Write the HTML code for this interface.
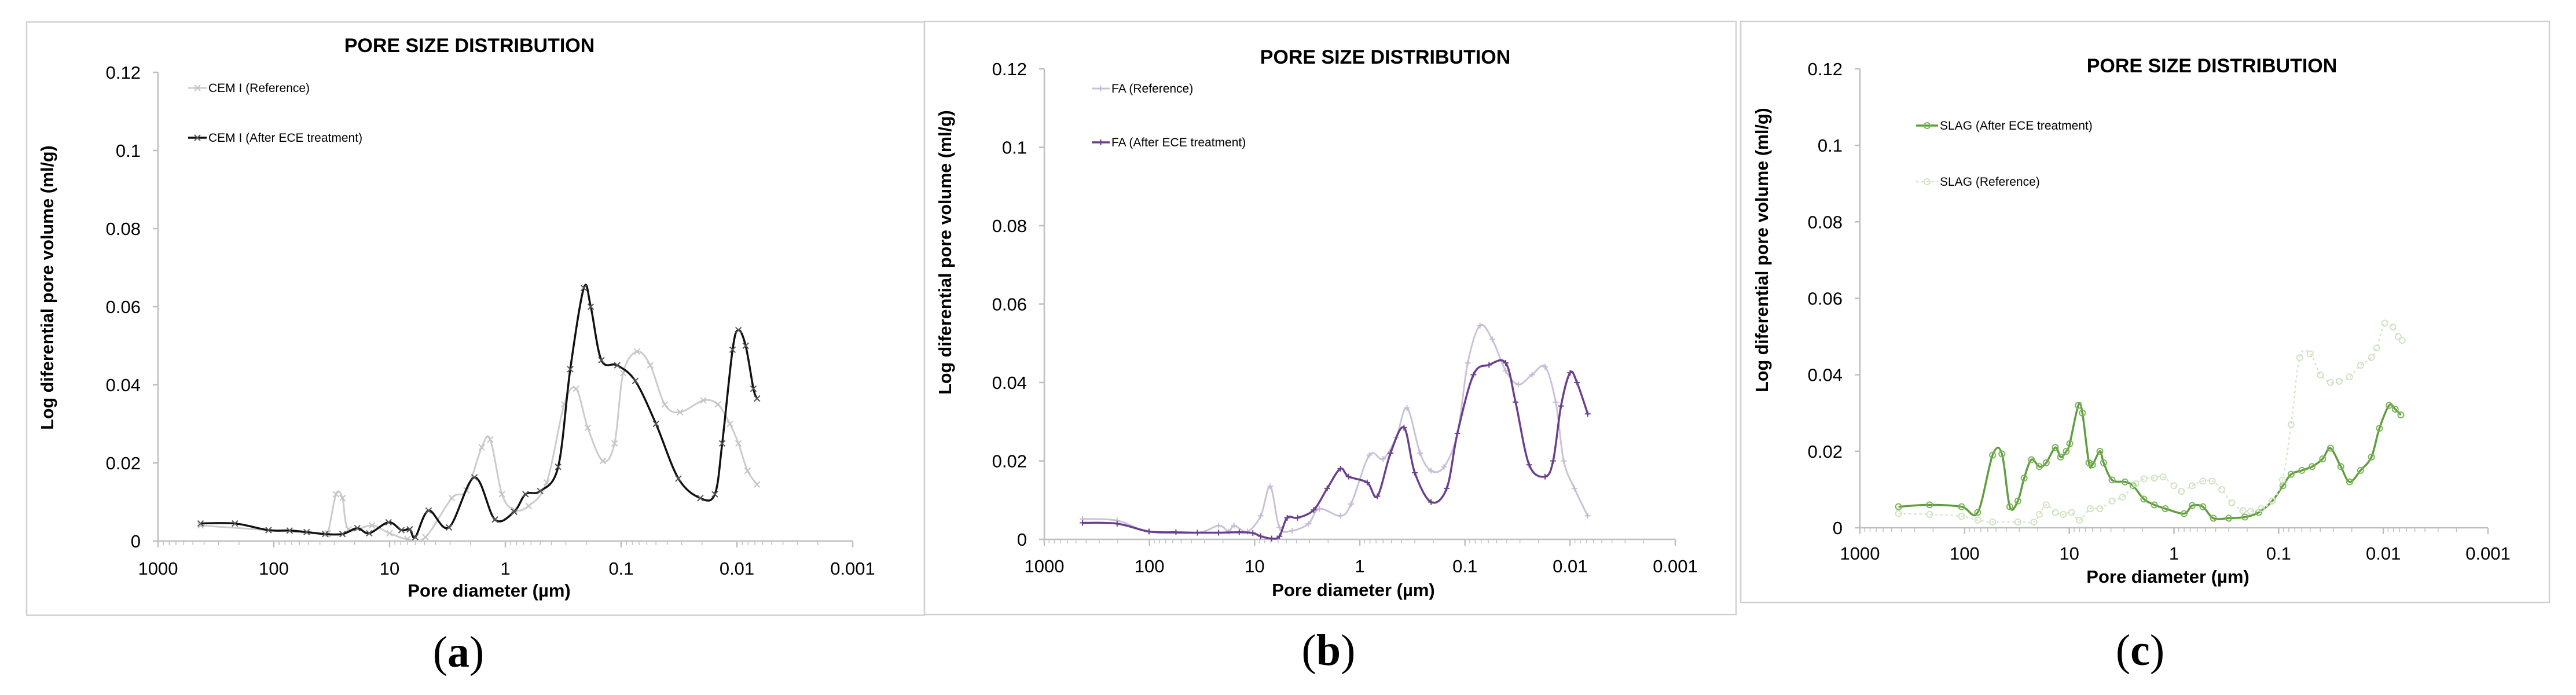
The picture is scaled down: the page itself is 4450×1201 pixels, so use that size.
<!DOCTYPE html>
<html><head><meta charset="utf-8"><title>Pore size distribution</title>
<style>
html,body{margin:0;padding:0;background:#fff;}
svg{display:block;}
</style></head>
<body>
<svg id="fig" width="4450" height="1201" viewBox="0 0 4450 1201" xmlns="http://www.w3.org/2000/svg" font-family="Liberation Sans, sans-serif"></svg>
<script>
// ---------- Data (pore diameter in µm, log differential pore volume in ml/g) ----------
const yTicks = [0, 0.02, 0.04, 0.06, 0.08, 0.1, 0.12];
const yTickLabels = ["0", "0.02", "0.04", "0.06", "0.08", "0.1", "0.12"];
const xTicks = [1000, 100, 10, 1, 0.1, 0.01, 0.001];
const xTickLabels = ["1000", "100", "10", "1", "0.1", "0.01", "0.001"];

const cemAfterD = [429,217,111,73,52,36,25.5,19,15,10.2,7.9,6.7,6.0,4.6,3.07,1.85,1.23,0.84,0.67,0.50,0.35,0.275,0.21,0.183,0.148,0.108,0.0755,0.050,0.032,0.0207,0.0155,0.0134,0.0109,0.0097,0.0084,0.0072,0.0067];
const cemAfterV = [0.0045,0.0045,0.0028,0.0027,0.0023,0.0018,0.0018,0.0033,0.0020,0.0048,0.0028,0.0030,0.0010,0.0078,0.0035,0.0163,0.0055,0.0075,0.0120,0.0128,0.0190,0.0440,0.0648,0.0600,0.0463,0.0450,0.0410,0.0300,0.0160,0.0110,0.0120,0.0250,0.0490,0.0540,0.0500,0.0390,0.0365];
const cemRefD = [429,111,36,34,29,25.5,22.6,14.2,10,7,4.9,2.9,2.16,1.6,1.35,1.07,0.84,0.63,0.44,0.31,0.245,0.194,0.144,0.114,0.096,0.073,0.056,0.042,0.031,0.0195,0.0146,0.0115,0.0097,0.0081,0.0067];
const cemRefV = [0.0040,0.0028,0.0018,0.0020,0.0120,0.0110,0.0030,0.0040,0.0020,0.0005,0.0010,0.0110,0.0130,0.0240,0.0260,0.0120,0.0080,0.0090,0.0150,0.0350,0.0390,0.0290,0.0205,0.0250,0.0430,0.0485,0.0450,0.0350,0.0330,0.0360,0.0350,0.0300,0.0250,0.0180,0.0145];

const faAfterD = [433,203,101,56,35,22,14,10.4,8.75,6.9,5.8,4.9,3.9,2.74,2.04,1.53,1.28,0.85,0.68,0.51,0.38,0.30,0.21,0.149,0.118,0.083,0.059,0.041,0.033,0.0245,0.0173,0.0145,0.0122,0.010,0.0086,0.0068];
const faAfterV = [0.0042,0.0040,0.0020,0.0018,0.0017,0.0017,0.0018,0.0016,0.0008,0.0002,0.0008,0.0055,0.0055,0.0075,0.0130,0.0180,0.0160,0.0145,0.0110,0.0220,0.0285,0.0170,0.0095,0.0130,0.0270,0.0420,0.0445,0.0450,0.0350,0.0190,0.0160,0.0200,0.0340,0.0425,0.0400,0.0320];
const faRefD = [433,203,101,35,22,17.6,15.7,11.7,8.75,7.1,5.8,4.4,3.07,2.43,1.53,1.21,0.81,0.60,0.45,0.356,0.267,0.21,0.158,0.118,0.094,0.072,0.055,0.041,0.031,0.023,0.0173,0.0137,0.0115,0.0091,0.0068];
const faRefV = [0.0052,0.0048,0.0020,0.0017,0.0035,0.0020,0.0035,0.0020,0.0060,0.0135,0.0030,0.0022,0.0040,0.0078,0.0060,0.0090,0.0215,0.0205,0.0260,0.0335,0.0220,0.0175,0.0185,0.0270,0.0450,0.0545,0.0510,0.0430,0.0395,0.0420,0.0440,0.0350,0.0200,0.0130,0.0060];

const slagAfterD = [428,216,107,75,54,44,37,31,27,23,19.3,16.6,13.6,12.1,10.7,9.9,8.2,7.5,6.5,6.0,5.1,4.7,3.9,2.94,2.46,1.94,1.54,1.21,0.80,0.67,0.53,0.42,0.30,0.21,0.155,0.115,0.091,0.076,0.060,0.048,0.038,0.032,0.0255,0.021,0.0165,0.013,0.0109,0.0088,0.0077,0.0068];
const slagAfterV = [0.0055,0.0060,0.0055,0.0040,0.0190,0.0193,0.0055,0.0070,0.0130,0.0178,0.0160,0.0170,0.0210,0.0185,0.0200,0.0220,0.0320,0.0300,0.0170,0.0165,0.0200,0.0170,0.0125,0.0120,0.0110,0.0075,0.0060,0.0050,0.0037,0.0058,0.0055,0.0025,0.0025,0.0028,0.0040,0.0070,0.0110,0.0140,0.0150,0.0160,0.0180,0.0208,0.0160,0.0120,0.0150,0.0185,0.0260,0.0320,0.0310,0.0295];
const slagRefD = [428,216,107,75,54,31,21.8,19.3,16.6,13.6,11.4,9.5,8.0,6.3,5.1,3.9,3.1,2.32,1.94,1.54,1.27,1.0,0.85,0.67,0.53,0.43,0.35,0.28,0.22,0.185,0.146,0.115,0.092,0.076,0.063,0.050,0.040,0.032,0.0264,0.021,0.0165,0.013,0.0116,0.0097,0.0081,0.0072,0.0066];
const slagRefV = [0.0037,0.0035,0.0030,0.0020,0.0015,0.0015,0.0015,0.0035,0.0060,0.0040,0.0035,0.0040,0.0020,0.0050,0.0050,0.0070,0.0080,0.0115,0.0128,0.0130,0.0133,0.0110,0.0095,0.0110,0.0122,0.0122,0.0100,0.0065,0.0045,0.0043,0.0050,0.0070,0.0125,0.0270,0.0445,0.0455,0.0400,0.0380,0.0383,0.0395,0.0425,0.0445,0.0470,0.0535,0.0525,0.0500,0.0490];

// ---------- Rendering ----------
const NS = "http://www.w3.org/2000/svg";
const svg = document.getElementById('fig');
function mk(tag, attrs, parent, txt){
  const e = document.createElementNS(NS, tag);
  for (const k in attrs) e.setAttribute(k, attrs[k]);
  if (txt !== undefined) e.textContent = txt;
  (parent || svg).appendChild(e);
  return e;
}
function smoothPath(pts){
  let d = "M" + pts[0][0].toFixed(1) + "," + pts[0][1].toFixed(1);
  for (let i = 0; i < pts.length - 1; i++){
    const p0 = pts[Math.max(0, i-1)], p1 = pts[i], p2 = pts[i+1], p3 = pts[Math.min(pts.length-1, i+2)];
    const t = 0.5/3;
    const c1x = p1[0] + (p2[0]-p0[0])*t, c1y = p1[1] + (p2[1]-p0[1])*t;
    const c2x = p2[0] - (p3[0]-p1[0])*t, c2y = p2[1] - (p3[1]-p1[1])*t;
    d += " C" + c1x.toFixed(1)+","+c1y.toFixed(1)+" "+c2x.toFixed(1)+","+c2y.toFixed(1)+" "+p2[0].toFixed(1)+","+p2[1].toFixed(1);
  }
  return d;
}
function marker(g, x, y, type, color){
  if (type === 'x'){
    mk('path', {d:`M${x-5},${y-5}L${x+5},${y+5}M${x-5},${y+5}L${x+5},${y-5}`, stroke:color, 'stroke-width':2, fill:'none'}, g);
  } else if (type === '+'){
    mk('path', {d:`M${x-5},${y}L${x+5},${y}M${x},${y-5}L${x},${y+5}`, stroke:color, 'stroke-width':2, fill:'none'}, g);
  } else {
    mk('circle', {cx:x, cy:y, r:5, stroke:color, 'stroke-width':2, fill:'none'}, g);
  }
}

function drawPanel(cfg){
  const g = mk('g', {});
  
  
  const box = mk('rect', {x:cfg.box[0], y:cfg.box[1], width:cfg.box[2]-cfg.box[0], height:cfg.box[3]-cfg.box[1], fill:'#fff', stroke:'#d0d0d0', 'stroke-width':2.5}, g);
  
  
  const xs = d => cfg.x0 + (3 - Math.log10(d)) * (cfg.x1 - cfg.x0) / 6;
  const ys = v => cfg.y0 - v / 0.12 * (cfg.y0 - cfg.y12);

  const yAxis = mk('line', {x1:cfg.x0, y1:cfg.y12, x2:cfg.x0, y2:cfg.y0, stroke:'#bfbfbf', 'stroke-width':2.5}, g);
  
  
  const xAxis = mk('line', {x1:cfg.x0, y1:cfg.y0, x2:cfg.x1, y2:cfg.y0, stroke:'#bfbfbf', 'stroke-width':2.5}, g);
  
  
  yTicks.forEach((v, i) => {
    mk('line', {x1:cfg.x0-9, y1:ys(v), x2:cfg.x0, y2:ys(v), stroke:'#bfbfbf', 'stroke-width':2.5}, g);
    const t = mk('text', {x:cfg.x0-30, y:ys(v)+11, 'text-anchor':'end', 'font-size':31, fill:'#000'}, g, yTickLabels[i]);
    
    
  });
  xTicks.forEach((d, i) => {
    mk('line', {x1:xs(d), y1:cfg.y0, x2:xs(d), y2:cfg.y0+11, stroke:'#bfbfbf', 'stroke-width':2.5}, g);
    if (i < xTicks.length - 1){
      for (let m = 2; m <= 9; m++){
        const xm = xs(d / 10 * m);
        mk('line', {x1:xm, y1:cfg.y0, x2:xm, y2:cfg.y0+7, stroke:'#bfbfbf', 'stroke-width':1.5}, g);
      }
    }
    const t = mk('text', {x:xs(d), y:cfg.xlabY, 'text-anchor':'middle', 'font-size':31, fill:'#000'}, g, xTickLabels[i]);
    
    
  });

  const ti = mk('text', {x:cfg.title[0], y:cfg.title[1]+13, 'text-anchor':'middle', 'font-size':34, 'font-weight':'bold', fill:'#000'}, g, 'PORE SIZE DISTRIBUTION');
  
  
  const xt = mk('text', {x:cfg.xtitX, y:cfg.xtitY+11, 'text-anchor':'middle', 'font-size':31, 'font-weight':'bold', fill:'#000'}, g, 'Pore diameter (\u00b5m)');
  
  
  const ycy = cfg.ytitY;
  const yt = mk('text', {x:cfg.ytitX+10, y:ycy, 'text-anchor':'middle', 'font-size':30.5, 'font-weight':'bold', fill:'#000', transform:`rotate(-90 ${cfg.ytitX+10} ${ycy})`}, g, cfg.ytitle);
  
  

  cfg.series.forEach(s => {
    const sg = mk('g', {}, g);
    
    
    const pts = s.d.map((d, i) => [xs(d), ys(s.v[i])]);
    const attrs = {d:smoothPath(pts), fill:'none', stroke:s.color, 'stroke-width':s.width, 'stroke-linejoin':'round'};
    if (s.dash) attrs['stroke-dasharray'] = s.dash;
    mk('path', attrs, sg);
    pts.forEach(p => marker(sg, p[0], p[1], s.marker, s.mcolor));
    const lg = mk('g', {}, g);
    
    
    const la = {x1:cfg.legX[0], y1:s.legY, x2:cfg.legX[1], y2:s.legY, stroke:s.color, 'stroke-width':s.width};
    if (s.dash) la['stroke-dasharray'] = s.dash;
    mk('line', la, lg);
    marker(lg, (cfg.legX[0]+cfg.legX[1])/2, s.legY, s.marker, s.mcolor);
    mk('text', {x:cfg.legX[1]+3, y:s.legY+7, 'font-size':21, fill:'#000'}, lg, s.label);
  });

  const cap = mk('text', {x:cfg.cap[0], y:cfg.cap[1]+24, 'text-anchor':'middle', 'font-size':76, 'font-family':'Liberation Serif, serif', fill:'#000'}, svg);
  
  
  mk('tspan', {}, cap, '(');
  mk('tspan', {'font-weight':'bold'}, cap, cfg.capLetter);
  mk('tspan', {}, cap, ')');
}

drawPanel({name:'panel-a-cem', box:[46,38,1597,1063], x0:273, x1:1473, y0:935, y12:125,
  title:[811,77], xlabY:993, xtitX:845, xtitY:1020, ytitX:82, ytitY:497, ytitle:'Log diferential pore volume (ml/g)',
  legX:[325,357], cap:[792,1128], capLetter:'a',
  series:[
    {name:'series-cem-reference', d:cemRefD, v:cemRefV, color:'#cccccc', mcolor:'#c4c4c4', width:3, marker:'x', legY:152, label:'CEM I (Reference)'},
    {name:'series-cem-after-ece', d:cemAfterD, v:cemAfterV, color:'#111111', mcolor:'#555555', width:3.5, marker:'x', legY:238, label:'CEM I (After ECE treatment)'}
  ]});
drawPanel({name:'panel-b-fa', box:[1597,37,2999,1062], x0:1804, x1:2894, y0:932, y12:119,
  title:[2393,97], xlabY:989, xtitX:2338, xtitY:1019, ytitX:1633, ytitY:436, ytitle:'Log diferential  pore volume (ml/g)',
  legX:[1886,1917], cap:[2295,1125], capLetter:'b',
  series:[
    {name:'series-fa-reference', d:faRefD, v:faRefV, color:'#cbc2d9', mcolor:'#c4bad3', width:3, marker:'+', legY:153, label:'FA (Reference)'},
    {name:'series-fa-after-ece', d:faAfterD, v:faAfterV, color:'#6a3f8c', mcolor:'#6a3f8c', width:3.5, marker:'+', legY:246, label:'FA (After ECE treatment)'}
  ]});
drawPanel({name:'panel-c-slag', box:[3007,37,4404,1041], x0:3213, x1:4298, y0:912, y12:119,
  title:[3821,112], xlabY:967, xtitX:3745, xtitY:996, ytitX:3044, ytitY:432, ytitle:'Log diferential  pore volume (ml/g)',
  legX:[3310,3348], cap:[3697,1125], capLetter:'c',
  series:[
    {name:'series-slag-after-ece', d:slagAfterD, v:slagAfterV, color:'#5f9e3a', mcolor:'#7db35c', width:3.5, marker:'o', legY:217, label:'SLAG (After ECE treatment)'},
    {name:'series-slag-reference', d:slagRefD, v:slagRefV, color:'#d3e6c7', mcolor:'#cfe3c2', width:2.5, dash:'4,5', marker:'o', legY:314, label:'SLAG (Reference)'}
  ]});
</script>
</body></html>
